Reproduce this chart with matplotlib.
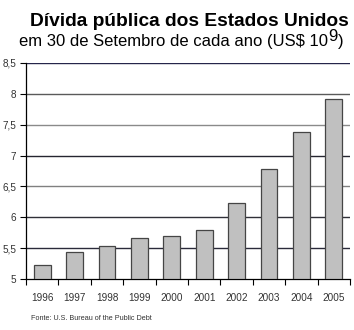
import matplotlib
matplotlib.use("Agg")
import matplotlib.pyplot as plt
from matplotlib.ticker import FixedLocator

years = ["1996", "1997", "1998", "1999", "2000", "2001", "2002", "2003", "2004", "2005"]
debt = [5.23, 5.43, 5.54, 5.67, 5.69, 5.80, 6.23, 6.78, 7.38, 7.92]
yticks = [5, 5.5, 6, 6.5, 7, 7.5, 8, 8.5]
ytick_labels = ["5", "5,5", "6", "6,5", "7", "7,5", "8", "8,5"]

plt.rcParams['font.family'] = ['Liberation Sans', 'DejaVu Sans']

W, H = 354, 330
fig = plt.figure(figsize=(W/100, H/100), dpi=100)
ax = fig.add_axes([26/W, 1-279/H, 324/W, 216/H])

x = list(range(len(years)))
ax.bar(x, [d - 5 for d in debt], bottom=5, width=0.52, color="#c0c0c0",
       edgecolor="#454545", linewidth=0.9, zorder=3)

ax.set_xlim(-0.5, len(years) - 0.5)
ax.set_ylim(5, 8.5)
ax.set_yticks(yticks)
ax.set_yticklabels(ytick_labels, fontsize=7.2, color="#333333")
ax.set_xticks(x)
ax.set_xticklabels(years, fontsize=7.2, color="#333333")
ax.tick_params(axis='x', length=0, pad=10)
ax.xaxis.set_minor_locator(FixedLocator([i + 0.5 for i in range(-1, len(years))]))
ax.tick_params(axis='x', which='minor', length=4, width=0.8, direction='out', color='black')
ax.tick_params(axis='y', length=4, width=0.8, direction='out', color='black', pad=3)

grid_colors = ["#2a2a3a", "#303038", "#808080", "#252530", "#8a8a8a", "#5a5a5a", "#25254a"]
for v, c in zip(yticks[1:], grid_colors):
    ax.axhline(v, color=c, linewidth=1.0, zorder=1)

for s in ['top', 'right']:
    ax.spines[s].set_visible(False)
for s in ['left', 'bottom']:
    ax.spines[s].set_color('black')
    ax.spines[s].set_linewidth(0.9)

fig.text(189/W, 1-25.5/H, "Dívida pública dos Estados Unidos", ha="center", va="baseline",
         fontsize=13.8, fontweight="bold", color="black")

renderer = fig.canvas.get_renderer()
sub_fs = 12.0
t1 = fig.text(19/W, 1-46/H, "em 30 de Setembro de cada ano (US$ 10", ha="left", va="baseline",
              fontsize=sub_fs, color="black")
bb = t1.get_window_extent(renderer)
t2 = fig.text((bb.x1 + 0.5)/W, 1-41/H, "9", ha="left", va="baseline", fontsize=sub_fs, color="black")
bb2 = t2.get_window_extent(renderer)
fig.text((bb2.x1 + 0.5)/W, 1-46/H, ")", ha="left", va="baseline", fontsize=sub_fs, color="black")

fig.text(31/W, 1-318.5/H, "Fonte: U.S. Bureau of the Public Debt", ha="left", va="center",
         fontsize=5.2, color="#333333")

fig.savefig("out.png", dpi=100)
